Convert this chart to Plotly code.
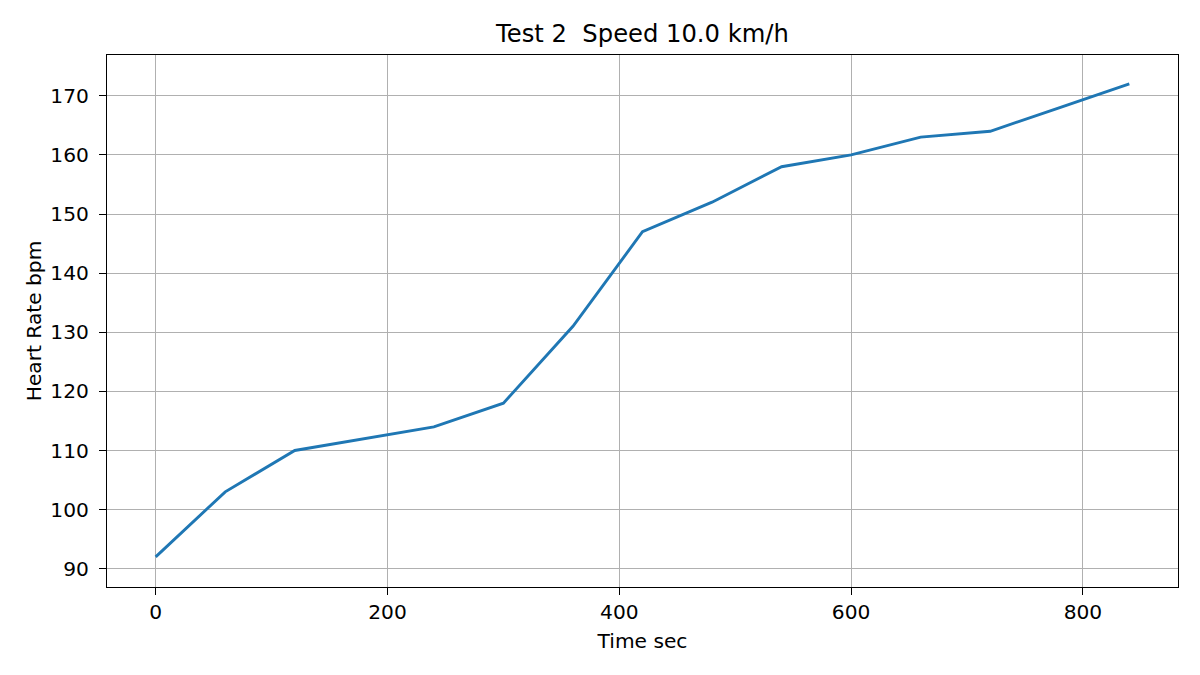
import plotly.graph_objects as go

time_sec = [0, 60, 120, 180, 240, 300, 360, 420, 480, 540, 600, 660, 720, 780, 840]
heart_rate = [92, 103, 110, 112, 114, 118, 131, 147, 152, 158, 160, 163, 164, 168, 172]
x_ticks = [0, 200, 400, 600, 800]
y_ticks = [90, 100, 110, 120, 130, 140, 150, 160, 170]

FONT = "DejaVu Sans"
BASE = 20.2

fig = go.Figure()
fig.add_trace(go.Scatter(
    x=time_sec, y=heart_rate, mode="lines",
    line=dict(color="#1f77b4", width=2.9),
    showlegend=False,
))

axis_common = dict(
    showline=True, linecolor="black", linewidth=1.2, mirror=True,
    showgrid=True, gridcolor="#b0b0b0", gridwidth=1.2,
    ticks="outside", ticklen=7, tickwidth=1.2, tickcolor="black",
    tickfont=dict(family=FONT, size=BASE, color="black"),
    zeroline=False,
)

fig.update_layout(
    width=1200, height=675,
    margin=dict(l=107, r=22, t=55, b=88),
    paper_bgcolor="white", plot_bgcolor="white",
    font=dict(family=FONT, color="black"),
    title=dict(
        text="Test 2  Speed 10.0 km/h",
        font=dict(family=FONT, size=BASE * 1.2, color="black"),
        x=(107 + 1178) / 2 / 1200, xanchor="center", xref="container",
        y=1 - 34 / 675, yanchor="middle", yref="container",
    ),
    xaxis=dict(
        range=[-42, 882], tickvals=x_ticks, ticklabelstandoff=0,
        title=dict(text="Time sec", font=dict(family=FONT, size=BASE, color="black"), standoff=10),
        **axis_common,
    ),
    yaxis=dict(
        range=[86.9, 176.9], tickvals=y_ticks, ticklabelstandoff=6,
        title=dict(text="Heart Rate bpm", font=dict(family=FONT, size=BASE, color="black"), standoff=3),
        **axis_common,
    ),
)

fig.write_html("out.html")
